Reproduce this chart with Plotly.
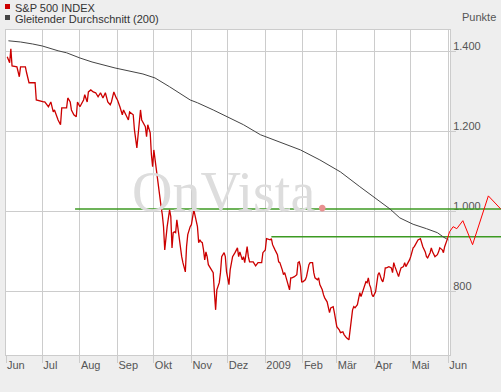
import plotly.graph_objects as go

# ---------------- data ----------------
sp_dates = [
    "2008-06-02", "2008-06-04", "2008-06-05", "2008-06-06", "2008-06-10", "2008-06-12", "2008-06-13",
    "2008-06-17", "2008-06-18", "2008-06-20", "2008-06-25", "2008-06-26",
    "2008-07-02", "2008-07-03", "2008-07-06", "2008-07-08", "2008-07-10", "2008-07-11", "2008-07-14",
    "2008-07-16", "2008-07-17", "2008-07-21", "2008-07-22", "2008-07-24", "2008-07-25", "2008-07-27",
    "2008-07-29", "2008-07-30",
    "2008-08-01", "2008-08-04", "2008-08-05", "2008-08-07", "2008-08-08", "2008-08-10", "2008-08-12",
    "2008-08-14", "2008-08-16", "2008-08-18", "2008-08-20", "2008-08-22", "2008-08-24", "2008-08-26",
    "2008-08-27", "2008-08-29", "2008-08-31",
    "2008-09-01", "2008-09-03", "2008-09-05", "2008-09-06", "2008-09-08", "2008-09-10", "2008-09-11",
    "2008-09-14", "2008-09-15", "2008-09-17", "2008-09-20", "2008-09-21", "2008-09-24", "2008-09-25",
    "2008-09-26", "2008-09-28", "2008-09-29", "2008-09-30",
    "2008-10-01", "2008-10-03", "2008-10-04", "2008-10-06", "2008-10-07", "2008-10-08", "2008-10-09",
    "2008-10-10", "2008-10-11", "2008-10-12", "2008-10-14", "2008-10-15", "2008-10-16", "2008-10-17",
    "2008-10-18", "2008-10-19", "2008-10-20", "2008-10-21", "2008-10-23", "2008-10-24", "2008-10-25",
    "2008-10-27", "2008-10-28", "2008-10-29", "2008-10-31",
    "2008-11-01", "2008-11-03", "2008-11-04", "2008-11-06", "2008-11-07", "2008-11-08", "2008-11-09",
    "2008-11-10", "2008-11-11", "2008-11-12", "2008-11-13", "2008-11-14", "2008-11-15", "2008-11-16",
    "2008-11-18", "2008-11-19", "2008-11-20", "2008-11-21", "2008-11-22", "2008-11-24", "2008-11-25",
    "2008-11-26", "2008-11-28", "2008-11-29", "2008-11-30",
    "2008-12-02", "2008-12-03", "2008-12-04", "2008-12-05", "2008-12-07", "2008-12-09", "2008-12-10",
    "2008-12-11", "2008-12-13", "2008-12-14", "2008-12-15", "2008-12-17", "2008-12-18", "2008-12-19",
    "2008-12-22", "2008-12-24", "2008-12-26", "2008-12-29", "2008-12-30",
    "2009-01-01", "2009-01-02", "2009-01-05", "2009-01-06", "2009-01-07", "2009-01-09", "2009-01-11",
    "2009-01-12", "2009-01-13", "2009-01-15", "2009-01-16", "2009-01-17", "2009-01-19", "2009-01-20",
    "2009-01-21", "2009-01-22", "2009-01-23", "2009-01-25", "2009-01-27", "2009-01-28", "2009-01-29",
    "2009-01-30", "2009-01-31",
    "2009-02-01", "2009-02-03", "2009-02-04", "2009-02-06", "2009-02-07", "2009-02-09", "2009-02-10",
    "2009-02-11", "2009-02-13", "2009-02-14", "2009-02-15", "2009-02-17", "2009-02-18", "2009-02-19",
    "2009-02-21", "2009-02-22", "2009-02-23", "2009-02-24", "2009-02-26", "2009-02-27", "2009-02-28",
    "2009-03-01", "2009-03-03", "2009-03-04", "2009-03-06", "2009-03-07", "2009-03-09", "2009-03-11",
    "2009-03-12", "2009-03-13", "2009-03-14", "2009-03-15", "2009-03-16", "2009-03-18", "2009-03-19",
    "2009-03-20", "2009-03-21", "2009-03-23", "2009-03-24", "2009-03-25", "2009-03-26", "2009-03-27",
    "2009-03-28", "2009-03-29", "2009-03-30", "2009-03-31",
    "2009-04-02", "2009-04-03", "2009-04-04", "2009-04-05", "2009-04-06", "2009-04-07", "2009-04-08",
    "2009-04-09", "2009-04-10", "2009-04-11", "2009-04-13", "2009-04-15", "2009-04-16", "2009-04-17",
    "2009-04-18", "2009-04-20", "2009-04-21", "2009-04-22", "2009-04-23", "2009-04-25", "2009-04-26",
    "2009-04-27", "2009-04-29", "2009-04-30",
    "2009-05-01", "2009-05-02", "2009-05-03", "2009-05-04", "2009-05-06", "2009-05-07", "2009-05-09",
    "2009-05-10", "2009-05-11", "2009-05-13", "2009-05-14", "2009-05-15", "2009-05-17", "2009-05-18",
    "2009-05-19", "2009-05-21", "2009-05-23", "2009-05-24", "2009-05-25", "2009-05-27", "2009-05-28",
    "2009-05-29", "2009-05-31",
]
sp_values = [
    1387, 1372, 1407, 1364, 1362, 1337, 1362, 1362, 1347, 1322, 1322, 1279,
    1274, 1274, 1262, 1274, 1249, 1254, 1229, 1217, 1259, 1259, 1284, 1274, 1254, 1242, 1237, 1274,
    1262, 1279, 1292, 1274, 1299, 1304, 1299, 1297, 1287, 1297, 1284, 1297, 1274, 1267, 1274, 1299, 1284,
    1279, 1262, 1242, 1254, 1242, 1229, 1249, 1242, 1204, 1159, 1254, 1229, 1212, 1187, 1217, 1197, 1142, 1112,
    1154, 1104, 1072, 1037, 1012, 992, 962, 904, 934, 962, 1004, 987, 909, 947, 949, 947, 979, 954, 912,
    887, 872, 849, 912, 942, 962,
    967, 1004, 987, 962, 922, 929, 924, 922, 904, 879, 899, 887, 867, 862, 849, 847, 797, 754, 804, 822,
    847, 887, 897, 887, 849,
    817, 854, 872, 887, 897, 909, 887, 899, 879, 887, 872, 912, 887, 874, 874, 864, 872, 872, 897,
    904, 932, 929, 932, 917, 904, 892, 874, 872, 854, 842, 847, 824, 809, 804, 834, 834, 837, 842, 872,
    874, 862, 824,
    824, 829, 837, 867, 872, 872, 847, 834, 829, 834, 817, 804, 792, 784, 774, 762, 747, 759, 762, 747, 729,
    712, 704, 697, 699, 692, 684, 679, 704, 729, 754, 762, 759, 767, 779, 797, 787, 804, 812, 824, 822,
    834, 817, 809, 792, 787,
    799, 822, 842, 847, 837, 829, 824, 837, 859, 859, 862, 859, 847, 872, 862, 847, 837, 849, 859, 862,
    872, 862, 872, 879,
    887, 899, 909, 912, 922, 929, 932, 922, 912, 899, 887, 884, 897, 909, 899, 887, 892, 899, 909, 904,
    897, 912, 929,
]

# continuation of the index beyond the chart window (drawn into the right margin)
ext_dates = ["2009-06-02", "2009-06-05", "2009-06-08", "2009-06-13", "2009-06-21", "2009-07-04", "2009-07-14"]
ext_values = [949, 962, 957, 977, 917, 1039, 1007]

# 200-day moving average
ma_dates = [
    "2008-06-03", "2008-06-13", "2008-06-23", "2008-07-01", "2008-07-14", "2008-07-21", "2008-08-01",
    "2008-08-11", "2008-08-30", "2008-09-13", "2008-09-22", "2008-10-02", "2008-10-09", "2008-10-14",
    "2008-10-31", "2008-11-06", "2008-11-19", "2008-12-03", "2008-12-14", "2008-12-28", "2009-01-13",
    "2009-01-30", "2009-02-15", "2009-03-04", "2009-03-20", "2009-04-06", "2009-04-14", "2009-04-22",
    "2009-05-03", "2009-05-14", "2009-05-23", "2009-05-28", "2009-06-01",
]
ma_values = [
    1427, 1424, 1419, 1414, 1402, 1397, 1384, 1374, 1359, 1349, 1344, 1334, 1322, 1312,
    1279, 1272, 1254, 1234, 1217, 1192, 1174, 1154, 1129, 1099, 1062, 1024, 1006, 984,
    968, 957, 947, 936, 929,
]

# horizontal trend levels (value, start date), running to the right edge
level_values = [1006, 937]
level_starts = ["2008-07-28", "2009-01-06"]
level_end = "2009-07-20"

# axis
month_ticks = ["2008-06-01", "2008-07-01", "2008-08-01", "2008-09-01", "2008-10-01", "2008-11-01",
               "2008-12-01", "2009-01-01", "2009-02-01", "2009-03-01", "2009-04-01", "2009-05-01",
               "2009-06-01"]
month_labels = ["Jun", "Jul", "Aug", "Sep", "Okt", "Nov", "Dez", "2009", "Feb", "Mär", "Apr", "Mai", "Jun"]
y_ticks = [800, 1000, 1200, 1400]
x_range = ["2008-06-01", "2009-06-02 10:00"]
x2_range = ["2009-06-02 10:00", "2009-07-14 10:00"]
y_range = [641, 1454]

series_name = "S&P 500 INDEX"
ma_name = "Gleitender Durchschnitt (200)"

# ---------------- figure ----------------
W, H = 501, 392
L, R, T, B = 6, 450, 30, 355
RED = "#cc0000"
GREEN = "#3c9a22"
FONT = "Liberation Sans, Arial, sans-serif"

fig = go.Figure()

for xa, ya in (("x", "y"), ("x2", "y2")):
    for v, s in zip(level_values, level_starts):
        fig.add_trace(go.Scatter(x=[s, level_end], y=[v, v], mode="lines",
                                 line=dict(color=GREEN, width=1.5), xaxis=xa, yaxis=ya,
                                 showlegend=False, hoverinfo="skip"))

fig.add_trace(go.Scatter(x=ma_dates, y=ma_values, mode="lines", name=ma_name,
                         line=dict(color="#444444", width=1), showlegend=False))
fig.add_trace(go.Scatter(x=sp_dates, y=sp_values, mode="lines", name=series_name,
                         line=dict(color=RED, width=1.3, shape="linear"), showlegend=False))
for xa, ya in (("x", "y"), ("x2", "y2")):
    fig.add_trace(go.Scatter(x=[sp_dates[-1]] + ext_dates, y=[sp_values[-1]] + ext_values,
                             mode="lines", line=dict(color="#ff0000", width=1),
                             xaxis=xa, yaxis=ya, showlegend=False, hoverinfo="skip"))

axis_font = dict(family=FONT, size=11, color="#555555")
fig.update_layout(
    template="none",
    width=W, height=H,
    margin=dict(l=0, r=0, t=T, b=H - B, autoexpand=False),
    paper_bgcolor="#eeeeee", plot_bgcolor="#eeeeee",
    separators=",.",
    showlegend=False,
    xaxis=dict(type="date", domain=[L / W, R / W], range=x_range, automargin=False,
               tickvals=month_ticks, ticktext=month_labels,
               showgrid=True, gridcolor="#cccccc", gridwidth=1,
               ticks="outside", ticklen=7, tickcolor="#cccccc",
               ticklabelposition="outside right", tickfont=axis_font,
               showline=True, linecolor="#cccccc", mirror=True, zeroline=False,
               anchor="y"),
    yaxis=dict(domain=[0, 1], range=y_range, side="right", anchor="x", automargin=False,
               tickvals=y_ticks, tickformat=",d",
               showgrid=True, gridcolor="#cccccc", gridwidth=1,
               ticks="outside", ticklen=5, tickcolor="#cccccc",
               ticklabelposition="outside top", ticklabelshift=3, tickfont=axis_font,
               showline=True, linecolor="#cccccc", mirror=True, zeroline=False),
    xaxis2=dict(type="date", domain=[R / W, 1], range=x2_range, visible=False, anchor="y2",
                automargin=False),
    yaxis2=dict(domain=[0, 1], range=y_range, visible=False, anchor="x2", automargin=False),
    shapes=[
        dict(type="rect", xref="x domain", yref="y domain", x0=0, x1=1, y0=0, y1=1,
             fillcolor="#ffffff", line=dict(width=0), layer="below"),
        dict(type="rect", xref="paper", yref="paper", x0=5 / W, x1=10 / W,
             y0=1 + (T - 4) / (B - T), y1=1 + (T - 9) / (B - T),
             fillcolor=RED, line=dict(width=0)),
        dict(type="rect", xref="paper", yref="paper", x0=5 / W, x1=10 / W,
             y0=1 + (T - 15) / (B - T), y1=1 + (T - 20) / (B - T),
             fillcolor="#444444", line=dict(width=0)),
    ],
    annotations=[
        dict(text=series_name, xref="paper", yref="paper", x=13 / W, y=1 + (T - 8) / (B - T),
             xanchor="left", yanchor="middle", showarrow=False,
             font=dict(family=FONT, size=11, color="#333333")),
        dict(text=ma_name, xref="paper", yref="paper", x=13 / W, y=1 + (T - 19) / (B - T),
             xanchor="left", yanchor="middle", showarrow=False,
             font=dict(family=FONT, size=11, color="#333333")),
        dict(text="Punkte", xref="paper", yref="paper", x=1, xshift=-3, y=1 + (T - 17) / (B - T),
             xanchor="right", yanchor="middle", showarrow=False, font=axis_font),
        dict(text="OnVista<span style='color:#e89090'>.</span>", xref="paper", yref="paper",
             x=230 / W, y=(B - 192) / (B - T), xanchor="center", yanchor="middle",
             showarrow=False, font=dict(family="Liberation Serif, serif", size=56, color="#dddddd")),
    ],
)

fig.write_html("out.html", config={"displayModeBar": False},
               post_script="document.body.style.margin='0';document.body.style.padding='0';")
